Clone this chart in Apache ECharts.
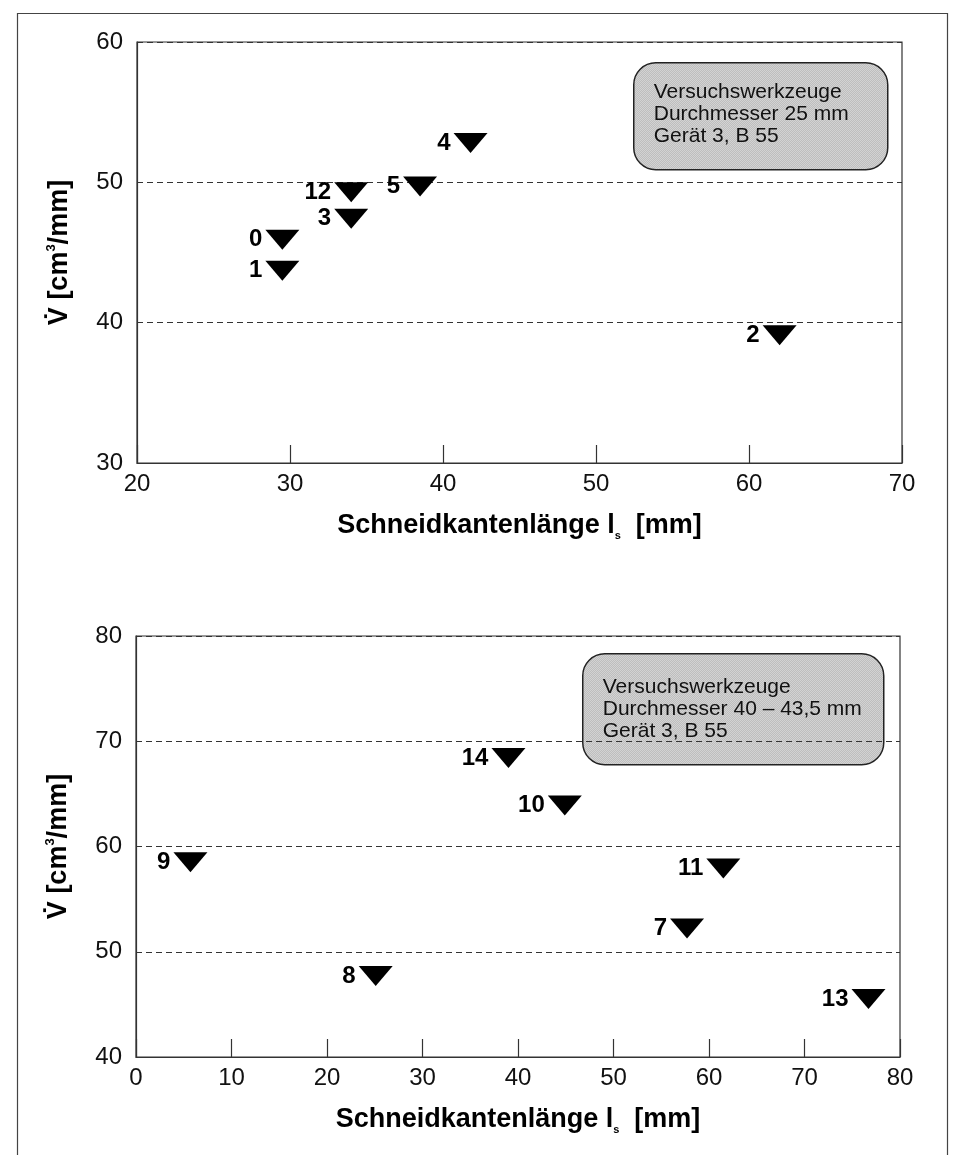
<!DOCTYPE html>
<html>
<head>
<meta charset="utf-8">
<script src="https://cdn.jsdelivr.net/npm/echarts@6/dist/echarts.min.js"></script>
<style>
html,body{margin:0;padding:0;background:#fff;}
#chart{width:954px;height:1155px;}
</style>
</head>
<body>
<div id="chart"></div>
<script>
// ---- Data (top chart: Durchmesser 25 mm) ----
var topLabels = ['0', '1', '12', '3', '5', '4', '2'];
var topX = [29.5, 29.5, 34.0, 34.0, 38.5, 41.8, 62.0];
var topY = [45.9, 43.7, 49.3, 47.4, 49.7, 52.8, 39.1];
var topXTicks = [20, 30, 40, 50, 60, 70];
var topYTicks = [30, 40, 50, 60];

// ---- Data (bottom chart: Durchmesser 40 - 43,5 mm) ----
var botLabels = ['9', '8', '14', '10', '7', '11', '13'];
var botX = [5.7, 25.1, 39.0, 44.9, 57.7, 61.5, 76.7];
var botY = [58.5, 47.7, 68.4, 63.9, 52.2, 57.9, 45.5];
var botXTicks = [0, 10, 20, 30, 40, 50, 60, 70, 80];
var botYTicks = [40, 50, 60, 70, 80];

var topBoxText = ['Versuchswerkzeuge', 'Durchmesser 25 mm', 'Gerät 3, B 55'];
var botBoxText = ['Versuchswerkzeuge', 'Durchmesser 40 – 43,5 mm', 'Gerät 3, B 55'];

function pts(xs, ys, ls) {
  return xs.map(function (x, i) { return { value: [x, ys[i]], name: ls[i] }; });
}

// halftone pattern
var pc = document.createElement('canvas');
pc.width = 2; pc.height = 2;
var pctx = pc.getContext('2d');
pctx.fillStyle = '#f2f2f2'; pctx.fillRect(0, 0, 2, 2);
pctx.fillStyle = '#a0a0a0'; pctx.fillRect(0, 0, 1, 1); pctx.fillRect(1, 1, 1, 1);
var pattern = { image: pc, repeat: 'repeat' };

var FONT = 'Liberation Sans, Arial, sans-serif';
var INK = '#000';

function xAxisDef(gi, min, max) {
  return {
    type: 'value', gridIndex: gi, min: min, max: max, interval: 10,
    axisLine: { show: true, onZero: false, lineStyle: { color: '#333', width: 1.2 } },
    axisTick: { show: true, inside: true, length: 18, lineStyle: { color: '#333', width: 1.2 } },
    axisLabel: { fontFamily: FONT, fontSize: 24, color: '#111', margin: 9 },
    splitLine: { show: false },
    name: '{b|Schneidkantenlänge l}{s|s}{b|  [mm]}',
    nameLocation: 'middle', nameGap: 48,
    nameTextStyle: {
      rich: {
        b: { fontFamily: FONT, fontSize: 27, fontWeight: 'bold', color: INK, lineHeight: 30 },
        s: { fontFamily: FONT, fontSize: 11, fontWeight: 'bold', color: INK, lineHeight: 12, verticalAlign: 'bottom' }
      }
    }
  };
}
function yAxisDef(gi, min, max) {
  return {
    type: 'value', gridIndex: gi, min: min, max: max, interval: 10,
    axisLine: { show: true, onZero: false, lineStyle: { color: '#333', width: 1.2 } },
    axisTick: { show: false },
    axisLabel: { fontFamily: FONT, fontSize: 24, color: '#111', margin: 14 },
    splitLine: { show: true, lineStyle: { color: '#333', width: 1, type: [6, 4] } },
    name: '{b|V̇ [cm}{p|3}{b|/mm]}',
    nameLocation: 'middle', nameGap: 62, nameRotate: 90,
    nameTextStyle: {
      rich: {
        b: { fontFamily: FONT, fontSize: 27, fontWeight: 'bold', color: INK, lineHeight: 30 },
        p: { fontFamily: FONT, fontSize: 13, fontWeight: 'bold', color: INK, lineHeight: 12, verticalAlign: 'top' }
      }
    }
  };
}
function scatterDef(gi, data) {
  return {
    type: 'scatter', xAxisIndex: gi, yAxisIndex: gi, data: data,
    symbol: 'triangle', symbolRotate: 180, symbolSize: [34, 20],
    itemStyle: { color: '#000', opacity: 1 },
    label: {
      show: true, position: 'left', distance: 3,
      formatter: function (p) { return p.name; },
      fontFamily: FONT, fontSize: 24, fontWeight: 'bold', color: INK, opacity: 1
    },
    emphasis: { disabled: true },
    z: 5
  };
}
function boxGraphic(left, top, w, h, lines, ty) {
  return {
    type: 'group', left: left, top: top, z: 10,
    children: [
      { type: 'rect', shape: { x: 0, y: 0, width: w, height: h, r: 22 },
        style: { fill: pattern, stroke: '#222', lineWidth: 1.5 } },
      { type: 'text', x: 20, y: ty,
        style: { text: lines.join('\n'), font: '21px ' + FONT, fill: '#111', lineHeight: 22 } }
    ]
  };
}

var chart = echarts.init(document.getElementById('chart'), null, { renderer: 'canvas' });
chart.setOption({
  backgroundColor: '#fff',
  animation: false,
  grid: [
    { left: 137, top: 42, width: 765, height: 421, show: true, borderColor: '#333', borderWidth: 1.2, backgroundColor: 'transparent' },
    { left: 136, top: 636, width: 764, height: 421, show: true, borderColor: '#333', borderWidth: 1.2, backgroundColor: 'transparent' }
  ],
  xAxis: [xAxisDef(0, topXTicks[0], topXTicks[topXTicks.length - 1]), xAxisDef(1, botXTicks[0], botXTicks[botXTicks.length - 1])],
  yAxis: [yAxisDef(0, topYTicks[0], topYTicks[topYTicks.length - 1]), yAxisDef(1, botYTicks[0], botYTicks[botYTicks.length - 1])],
  series: [scatterDef(0, pts(topX, topY, topLabels)), scatterDef(1, pts(botX, botY, botLabels))],
  graphic: [
    { type: 'rect', left: 15, top: 11, z: 0, shape: { width: 930, height: 1200 },
      style: { fill: 'none', stroke: '#444', lineWidth: 1.2 } },
    boxGraphic(633, 62, 254, 107, topBoxText, 18),
    boxGraphic(582, 653, 301, 111, botBoxText, 22)
  ]
});
</script>
</body>
</html>
